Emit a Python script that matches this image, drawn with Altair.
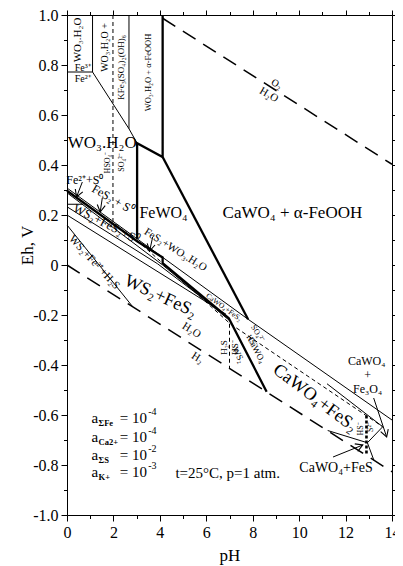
import math
import altair as alt
import pandas as pd

# ---------------- values ----------------
# boundary lines: pH list and Eh list (V)
fe3_fe2_ph = [0.0, 1.1];              fe3_fe2_eh = [0.772, 0.772]
wo3_left_ph = [1.1, 1.1];             wo3_left_eh = [1.0, 0.772]
wo3_fe2_ph = [1.1, 2.67, 3.02];       wo3_fe2_eh = [0.772, 0.545, 0.487]
jarosite_ph = [2.67, 2.67];           jarosite_eh = [1.0, 0.545]
pyrite_up_ph = [0.0, 7.8, 14.0];      pyrite_up_eh = [0.308, -0.217, -0.62]
sulfur_a_ph = [0.0, 4.12, 7.0];       sulfur_a_eh = [0.289, 0.0, -0.222]
sulfur_h_ph = [0.0, 0.7];             sulfur_h_eh = [0.243, 0.243]
ws2_s0_up_ph = [0.0, 3.9, 7.0];       ws2_s0_up_eh = [0.233, 0.005, -0.215]
ws2_s0_low_ph = [0.0, 6.85];          ws2_s0_low_eh = [0.2, -0.197]
ws2_fe2_ph = [0.0, 2.84];             ws2_fe2_eh = [0.16, -0.168]
fe3o4_ph = [11.2, 13.6];              fe3o4_eh = [-0.475, -0.647]
fes_top_ph = [11.23, 12.94, 13.6];    fes_top_eh = [-0.662, -0.711, -0.647]
fes_low_ph = [12.94, 13.22];          fes_low_eh = [-0.711, -0.781]
fewo4_left_ph = [3.02, 3.02, 4.12, 4.12]; fewo4_left_eh = [0.105, 0.487, 0.432, 1.0]
fewo4_right_ph = [4.12, 7.8];         fewo4_right_eh = [0.432, -0.217]
ws2_edge_ph = [0.0, 3.02, 4.12, 4.12, 6.97, 8.6]
ws2_edge_eh = [0.297, 0.095, 0.03, 0.007, -0.213, -0.507]
hso4_ph = [1.98, 1.98];               hso4_eh = [1.0, 0.165]
so4_hs_ph = [3.0, 7.03, 13.6];        so4_hs_eh = [0.10, -0.235, -0.647]
h2s_hs_ph = [7.0, 7.0];               h2s_hs_eh = [-0.235, -0.414]
hs_s2_ph = [12.9, 12.9];              hs_s2_eh = [-0.602, -0.762]
o2_h2o_ph = [4.12, 14.0];             o2_h2o_eh = [0.987, 0.403]
h2o_h2_ph = [0.0, 14.0];              h2o_h2_eh = [0.0, -0.827]

# arrows (tail -> tip)
arrow_tail_ph = [0.66, 1.52, 3.69, 13.21, 11.46]
arrow_tail_eh = [0.332, 0.268, 0.112, -0.532, -0.768]
arrow_tip_ph = [0.41, 1.43, 3.56, 13.77, 12.74]
arrow_tip_eh = [0.272, 0.212, 0.056, -0.688, -0.72]

# field labels
label_text = ["WO₃.H₂O", "Fe³⁺", "Fe²⁺", "WO₃.H₂O +", "KFe₃(SO₄)₂(OH)₆",
              "WO₃.H₂O + α-FeOOH", "WO₃.H₂O", "HSO₄⁻", "SO₄²⁻", "Fe²⁺+S⁰",
              "FeS₂ + S⁰", "FeWO₄", "CaWO₄ + α-FeOOH", "WS₂+FeS₂+S⁰",
              "WS₂+Fe²⁺+H₂S", "FeS₂+WO₃.H₂O", "WS₂+FeS₂", "CaWO₄+FeS₂",
              "CaWO₄+FeS₂", "H₂S", "HS⁻", "WS₂", "CaWO₄", "SO₄²⁻", "HS⁻",
              "CaWO₄", "+", "Fe₃O₄", "HS⁻", "S²⁻", "CaWO₄+FeS", "O₂", "H₂O",
              "H₂O", "H₂"]
label_ph = [0.49, 0.68, 0.68, 1.64, 2.33,
            3.48, 1.52, 1.77, 2.37, 0.77,
            1.98, 4.16, 9.71, 1.69,
            1.17, 4.67, 4.03, 6.75,
            10.69, 6.77, 7.24, 7.39, 8.17, 8.2, 7.95,
            12.91, 12.95, 12.95, 12.66, 13.08, 11.59, 9.03, 8.69,
            5.36, 5.61]
label_eh = [0.90, 0.79, 0.745, 0.87, 0.79,
            0.77, 0.488, 0.41, 0.41, 0.34,
            0.264, 0.21, 0.21, 0.165,
            0.01, 0.06, -0.126, -0.17,
            -0.533, -0.33, -0.33, -0.36, -0.34, -0.275, -0.305,
            -0.383, -0.441, -0.497, -0.656, -0.648, -0.812, 0.724, 0.68,
            -0.262, -0.372]
label_size = [11, 10, 10, 10, 9,
              8.5, 17, 8, 8, 12,
              12, 16, 17, 12.5,
              11, 11, 18, 7.5,
              18, 9, 9, 9, 9, 8, 8,
              12, 12, 12, 8, 8, 14, 10, 11,
              11, 11]
label_angle = [270, 0, 0, 270, 270,
               270, 0, 270, 270, 0,
               30, 0, 0, 27,
               47, 32, 25, 36,
               37, 270, 270, 62, 62, 58, 58,
               0, 0, 0, 270, 270, 0, 30, 30,
               32, 32]

# activity conditions
cond_main = ["a", "a", "a", "a"]
cond_sub = ["ΣFe", "Ca2+", "ΣS", "K+"]
cond_eq = ["= 10", "= 10", "= 10", "= 10"]
cond_exp = ["-4", "-4", "-2", "-3"]
cond_eh = [-0.612, -0.688, -0.76, -0.828]
cond_note = "t=25°C, p=1 atm."

# ---------------- chart ----------------
W, H = 325, 500
SX, SY = W / 14.0, H / 2.0
FONT = "Liberation Serif"

line_specs = [
    ("fe3_fe2", "thin", fe3_fe2_ph, fe3_fe2_eh),
    ("wo3_left", "thin", wo3_left_ph, wo3_left_eh),
    ("wo3_fe2", "thin", wo3_fe2_ph, wo3_fe2_eh),
    ("jarosite", "thin", jarosite_ph, jarosite_eh),
    ("pyrite_up", "thin", pyrite_up_ph, pyrite_up_eh),
    ("sulfur_a", "thin", sulfur_a_ph, sulfur_a_eh),
    ("sulfur_h", "thin", sulfur_h_ph, sulfur_h_eh),
    ("ws2_s0_up", "thin", ws2_s0_up_ph, ws2_s0_up_eh),
    ("ws2_s0_low", "thin", ws2_s0_low_ph, ws2_s0_low_eh),
    ("ws2_fe2", "thin", ws2_fe2_ph, ws2_fe2_eh),
    ("fe3o4", "thin", fe3o4_ph, fe3o4_eh),
    ("fes_top", "thin", fes_top_ph, fes_top_eh),
    ("fes_low", "thin", fes_low_ph, fes_low_eh),
    ("fewo4_left", "thick", fewo4_left_ph, fewo4_left_eh),
    ("fewo4_right", "thick", fewo4_right_ph, fewo4_right_eh),
    ("ws2_edge", "thick", ws2_edge_ph, ws2_edge_eh),
    ("hso4", "dash", hso4_ph, hso4_eh),
    ("so4_hs", "dash", so4_hs_ph, so4_hs_eh),
    ("h2s_hs", "dash", h2s_hs_ph, h2s_hs_eh),
    ("hs_s2", "dashthick", hs_s2_ph, hs_s2_eh),
    ("o2_h2o", "water", o2_h2o_ph, o2_h2o_eh),
    ("h2o_h2", "water", h2o_h2_ph, h2o_h2_eh),
]
for k in range(len(arrow_tail_ph)):
    line_specs.append((f"arrow{k}", "thin", [arrow_tail_ph[k], arrow_tip_ph[k]],
                       [arrow_tail_eh[k], arrow_tip_eh[k]]))

rows = []
for name, style, ph, eh in line_specs:
    for i, (p, e) in enumerate(zip(ph, eh)):
        rows.append({"line": name, "style": style, "i": i, "pH": p, "Eh": e})
lines_df = pd.DataFrame(rows)

labels_df = pd.DataFrame({"text": label_text, "pH": label_ph, "Eh": label_eh,
                          "size": label_size, "angle": label_angle})

angles = []
for k in range(len(arrow_tip_ph)):
    dx = (arrow_tip_ph[k] - arrow_tail_ph[k]) * SX
    dy = -(arrow_tip_eh[k] - arrow_tail_eh[k]) * SY
    angles.append(math.degrees(math.atan2(dy, dx)) % 360)
heads_df = pd.DataFrame({"pH": arrow_tip_ph, "Eh": arrow_tip_eh, "ang": angles})

cond_df = pd.DataFrame({"main": cond_main, "sub": cond_sub, "eq": cond_eq,
                        "exp": cond_exp, "Eh": cond_eh})
note_df = pd.DataFrame({"text": [cond_note], "pH": [4.67], "Eh": [-0.832]})

xs = alt.Scale(domain=[0, 14], nice=False, zero=False)
ys = alt.Scale(domain=[-1, 1], nice=False, zero=False)

x_major = list(range(0, 15, 2))
x_minor = list(range(1, 15, 2))
y_major = [round(-1 + 0.2 * i, 1) for i in range(11)]
y_minor = [round(-0.9 + 0.2 * i, 1) for i in range(10)]


def ax(orient, values, size, **kw):
    base = dict(orient=orient, values=values, tickSize=size, grid=False,
                domainColor="black", tickColor="black", tickWidth=1, domainWidth=1)
    base.update(kw)
    if "labels" not in kw:
        base["labels"] = False
    if "title" not in kw:
        base["title"] = None
    return alt.Axis(**base)


ax_bottom = ax("bottom", x_major, 6, labels=True, title="pH", labelFont=FONT,
               labelFontSize=16, labelColor="black", labelPadding=3, labelFlush=False,
               labelOverlap=False, titleFont=FONT, titleFontSize=17,
               titleFontWeight="normal", titleColor="black", titleY=45,
               titleBaseline="alphabetic")
ax_left = ax("left", y_major, 6, labels=True, title="Eh, V", labelFont=FONT,
             labelFontSize=16, labelColor="black", labelPadding=3, labelFlush=False,
             labelOverlap=False,
             labelExpr="datum.value == 0 ? '0' : (datum.value < 0 ? '-' : '') + format(abs(datum.value), '.1f')",
             titleFont=FONT, titleFontSize=17, titleFontWeight="normal",
             titleColor="black", titleAngle=270, titleX=-40, titleY=230,
             titleAlign="center", titleBaseline="middle")
ax_top = ax("top", x_major, 5)
ax_right = ax("right", y_major, 3)
ax_bottom_m = ax("bottom", x_minor, 3.5, domain=False)
ax_left_m = ax("left", y_minor, 3.5, domain=False)
ax_top_m = ax("top", x_minor, 3.5, domain=False)
ax_right_m = ax("right", y_minor, 2.5, domain=False)


def xy(xa=None, ya=None):
    return dict(x=alt.X("pH:Q", scale=xs, axis=xa), y=alt.Y("Eh:Q", scale=ys, axis=ya))


def line_layer(style, xa, ya, **mk):
    return (alt.Chart(lines_df).transform_filter(f"datum.style == '{style}'")
            .mark_line(color="black", **mk)
            .encode(**xy(xa, ya), detail="line:N", order="i:Q"))


thin = line_layer("thin", ax_bottom, ax_left, strokeWidth=1)
thick = line_layer("thick", ax_top, ax_right, strokeWidth=2.3)
dash = line_layer("dash", ax_bottom_m, ax_left_m, strokeWidth=1, strokeDash=[4, 3])
water = line_layer("water", ax_top_m, ax_right_m, strokeWidth=1.5, strokeDash=[15, 9])
dashthick = line_layer("dashthick", None, None, strokeWidth=2.6, strokeDash=[3, 2])

heads = (alt.Chart(heads_df)
         .mark_point(shape="M -1.4 -0.8 L 0 0 L -1.4 0.8", filled=False, size=100,
                     strokeWidth=1.1, color="black", opacity=1)
         .encode(**xy(), angle=alt.Angle("ang:Q", scale=None)))

texts = (alt.Chart(labels_df)
         .mark_text(font=FONT, color="black", align="center", baseline="middle")
         .encode(**xy(), text="text:N", size=alt.Size("size:Q", scale=None),
                 angle=alt.Angle("angle:Q", scale=None)))

cond_base = alt.Chart(cond_df).transform_calculate(a_ph="1.05", sub_ph="1.36",
                                                   eq_ph="2.27", exp_ph="3.5")
cond_a = cond_base.mark_text(font=FONT, fontSize=15, align="left", baseline="middle",
                             color="black").encode(
    x=alt.X("a_ph:Q", scale=xs, axis=None), y=alt.Y("Eh:Q", scale=ys, axis=None), text="main:N")
cond_s = cond_base.mark_text(font=FONT, fontSize=8.5, fontWeight="bold", align="left",
                             baseline="middle", dy=5, color="black").encode(
    x=alt.X("sub_ph:Q", scale=xs, axis=None), y=alt.Y("Eh:Q", scale=ys, axis=None), text="sub:N")
cond_e = cond_base.mark_text(font=FONT, fontSize=15, align="left", baseline="middle",
                             color="black").encode(
    x=alt.X("eq_ph:Q", scale=xs, axis=None), y=alt.Y("Eh:Q", scale=ys, axis=None), text="eq:N")
cond_x = cond_base.mark_text(font=FONT, fontSize=10, align="left", baseline="middle",
                             dy=-6, color="black").encode(
    x=alt.X("exp_ph:Q", scale=xs, axis=None), y=alt.Y("Eh:Q", scale=ys, axis=None), text="exp:N")
note = alt.Chart(note_df).mark_text(font=FONT, fontSize=15, align="left", baseline="middle",
                                    color="black").encode(**xy(), text="text:N")

chart = (alt.layer(thin, thick, dash, water, dashthick, heads, texts,
                   cond_a, cond_s, cond_e, cond_x, note)
         .resolve_axis(x="independent", y="independent")
         .properties(width=W, height=H,
                     autosize=alt.AutoSizeParams(type="none"),
                     padding={"left": 59, "top": 7, "right": 3, "bottom": 50})
         .configure_view(stroke=None)
         .configure(background="white"))

chart.save("out.html", embed_options={"renderer": "svg", "actions": False})
